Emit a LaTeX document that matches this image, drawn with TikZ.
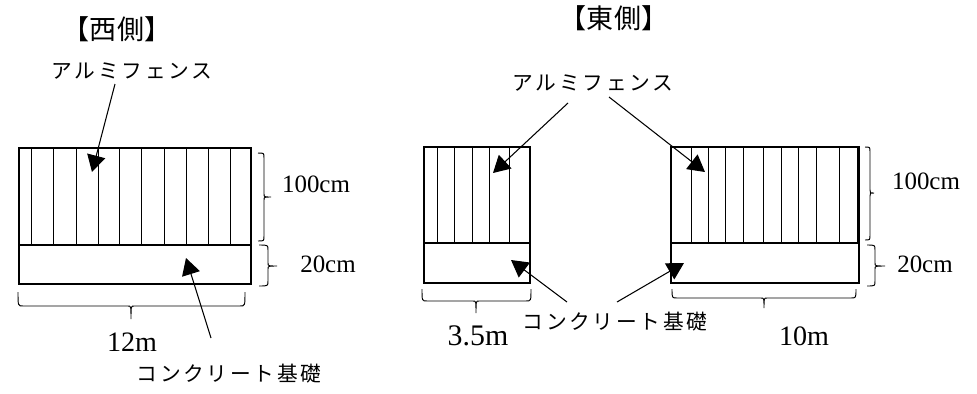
\documentclass[tikz,border=0pt]{standalone}
\usepackage{fontspec}
\setmainfont{Liberation Serif}
\newfontfamily\jpfont{Noto Sans CJK JP}
\newfontfamily\jpwide[LetterSpace=13]{Noto Sans CJK JP}
\usetikzlibrary{arrows.meta}
\tikzset{
  wall/.style={draw, line width=1.5pt},
  bar/.style={line width=0.45pt},
  arr/.style={line width=0.6pt, -{Triangle[length=9.5pt, width=10.5pt]}},
  curly/.style={line width=0.55pt},
  head/.style={font=\fontsize{15.4}{18}\selectfont\jpfont},
  kana/.style={font=\fontsize{11.8}{14}\selectfont\jpwide, inner sep=1pt},
  size/.style={font=\fontsize{14.2}{17}\selectfont, inner sep=1pt},
  bigsize/.style={font=\fontsize{16}{19}\selectfont, inner sep=1pt}
}
% brace below: x1, x2, y start, y straight, x tip, y tip
\newcommand{\lowbrace}[6]{
    \draw[curly] (#1,#3) .. controls (#1,#4) .. (#1+5,#4) -- (#5-3,#4)
        .. controls (#5,#4) .. (#5,#6) .. controls (#5,#4) .. (#5+3,#4)
        -- (#2-5,#4) .. controls (#2,#4) .. (#2,#3);
}
% brace on the right: y1, y2, x start, x straight, y tip, x tip
\newcommand{\sidebrace}[6]{
    \draw[curly] (#3,#1) .. controls (#4,#1) .. (#4,#1+5) -- (#4,#5-3)
        .. controls (#4,#5) .. (#6,#5) .. controls (#4,#5) .. (#4,#5+3)
        -- (#4,#2-5) .. controls (#4,#2) .. (#3,#2);
}
\begin{document}
\begin{tikzpicture}[x=0.02cm, y=-0.02cm]
    \useasboundingbox (0,0) rectangle (977,393);
    % west side
    \node[head] (west) at (117,29) {【西側】};
    \node[kana] (fenceW) at (132,71) {アルミフェンス};
    \node[kana] (baseW) at (229,374) {コンクリート基礎};
    \foreach \x in {31,53,76,98,119,141,164,186,208,230}
        \draw[bar] (\x,148) -- (\x,245);
    \draw[wall] (19,148) rectangle (251,284);
    \draw[wall] (19,245) -- (251,245);
    \coordinate (fenceWa) at (115,84);
    \coordinate (fenceWb) at (92,172);
    \coordinate (baseWa) at (211,338);
    \coordinate (baseWb) at (186,258);
    \draw[arr] (fenceWa) -- (fenceWb);
    \draw[arr] (baseWa) -- (baseWb);
    \sidebrace{153}{241}{258}{264}{197}{271}
    \sidebrace{245}{286}{259}{268}{266}{277}
    \lowbrace{18}{245}{292}{306}{131}{319}
    \node[size] (hW) at (316,184) {100cm};
    \node[size] (dW) at (328,264) {20cm};
    \node[bigsize] (lW) at (132,342) {12m};
    % east side
    \node[head] (east) at (614,18) {【東側】};
    \node[kana] (fenceE) at (593,83) {アルミフェンス};
    \node[kana] (baseE) at (615,322) {コンクリート基礎};
    \foreach \x in {437,454,472,489,509}
        \draw[bar] (\x,147) -- (\x,243);
    \foreach \x in {691,708,725,743,763,781,798,816,839,857}
        \draw[bar] (\x,147) -- (\x,243);
    \draw[wall] (424,147) rectangle (530,283);
    \draw[wall] (424,243) -- (530,243);
    \draw[wall] (671,147) rectangle (859,283);
    \draw[wall] (671,243) -- (859,243);
    \coordinate (fenceEa) at (568,103);
    \coordinate (fenceEb) at (493,173);
    \coordinate (fenceEc) at (609,97);
    \coordinate (fenceEd) at (705,172);
    \coordinate (baseEa) at (567,302);
    \coordinate (baseEb) at (511,260);
    \coordinate (baseEc) at (617,302);
    \coordinate (baseEd) at (684,263);
    \draw[arr] (fenceEa) -- (fenceEb);
    \draw[arr] (fenceEc) -- (fenceEd);
    \draw[arr] (baseEa) -- (baseEb);
    \draw[arr] (baseEc) -- (baseEd);
    \sidebrace{147}{240}{865}{870}{193}{874}
    \sidebrace{245}{286}{867}{875}{266}{885}
    \lowbrace{422}{531}{289}{301}{476}{313}
    \lowbrace{672}{856}{289}{298}{764}{308}
    \node[size] (hE) at (926,181) {100cm};
    \node[size] (dE) at (925,264) {20cm};
    \node[bigsize, font=\fontsize{17}{20}\selectfont] (lEa) at (478,336) {3.5m};
    \node[bigsize] (lEb) at (804,336) {10m};
\end{tikzpicture}
\end{document}
